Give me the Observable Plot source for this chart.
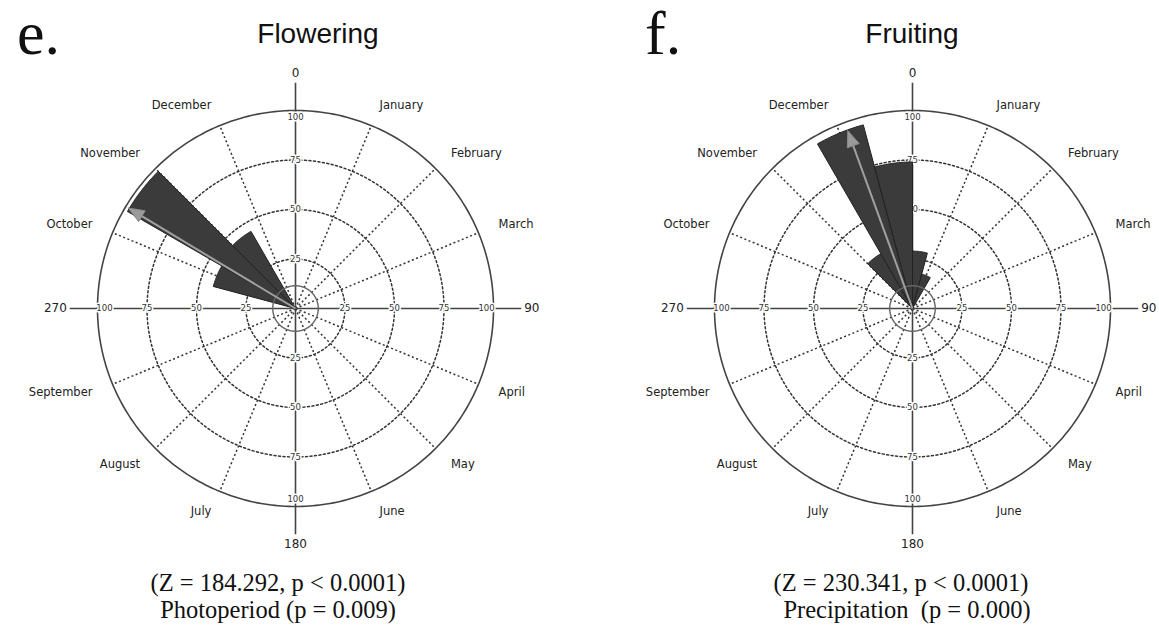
<!DOCTYPE html>
<html><head><meta charset="utf-8">
<script src="https://cdn.jsdelivr.net/npm/d3@7"></script>
<script src="https://cdn.jsdelivr.net/npm/@observablehq/plot@0.6"></script>
<style>
body{margin:0;background:#fff;}
#root{position:relative;width:1159px;height:628px;overflow:hidden;background:#fff;}
.abs{position:absolute;white-space:pre;}
.letter{font-family:"Liberation Serif",serif;font-size:62px;line-height:66px;color:#111;}
.title{font-family:"Liberation Sans",Arial,sans-serif;font-size:28px;line-height:30px;color:#111;text-align:center;width:300px;}
.cap{font-family:"Liberation Serif",serif;font-size:24.5px;line-height:26px;color:#111;text-align:center;width:400px;}
svg{position:absolute;}
</style></head><body><div id="root"></div>
<script>
// ---- data ----
const months = ["January","February","March","April","May","June","July","August","September","October","November","December"];
const axisTickValues = [25, 50, 75, 100];
const axisEndLabels = ["0", "90", "180", "270"];
const binWidth = 15;
const floweringBinStarts = [285, 300, 315];
const floweringValues = [43, 98, 45];
const floweringMeanAngle = 301;
const floweringMeanLength = 98.5;
const fruitingBinStarts = [315, 330, 345, 0, 15];
const fruitingValues = [32, 96, 74, 29, 18];
const fruitingMeanAngle = 340;
const fruitingMeanLength = 95.5;

// ---- helpers ----
const rad = d => d * Math.PI / 180;
const px = (r, a) => r * Math.sin(rad(a));
const py = (r, a) => r * Math.cos(rad(a));

function rose({cx, cy, W, H, binStarts, values, meanAngle, meanLength}) {
  const k = 1.98; // px per unit
  const wedges = [];
  binStarts.forEach((s, i) => {
    const v = values[i];
    wedges.push({id: i, x: 0, y: 0});
    for (let a = s; a <= s + binWidth + 1e-9; a += 0.5) wedges.push({id: i, x: px(v, a), y: py(v, a)});
    wedges.push({id: i, x: 0, y: 0});
  });
  const ring = (r, id) => d3.range(0, 361, 1).map(a => ({id, x: px(r, a), y: py(r, a)}));
  const dashedRings = [25, 50, 75].flatMap(r => ring(r, r));
  const outerRing = ring(100, "o");
  const innerRing = ring(11.5, "i");
  const spokeAngles = d3.range(0, 360, 22.5).filter(a => a % 90 !== 0);
  const spokes = spokeAngles.map(a => ({x2: px(100, a), y2: py(100, a)}));
  const monthPos = spokeAngles.map((a, i) => ({text: months[i], a, x: px(111, a), y: py(111, a)}));
  const tickData = [];
  for (const dir of [0, 90, 180, 270]) for (const v of axisTickValues) {
    const r = v === 100 ? 96.5 : v;
    tickData.push({text: String(v), x: px(r, dir), y: py(r, dir)});
  }
  const ends = axisEndLabels.map((t, i) => ({text: t, a: i * 90}));
  const ext = 114;
  // arrow: shaft + filled head
  const headLen = 8, headHalf = 3.2;
  const baseR = meanLength - headLen;
  const perp = meanAngle + 90;
  const head = [
    {x: px(meanLength, meanAngle), y: py(meanLength, meanAngle)},
    {x: px(baseR, meanAngle) + px(headHalf, perp), y: py(baseR, meanAngle) + py(headHalf, perp)},
    {x: px(baseR, meanAngle) - px(headHalf, perp), y: py(baseR, meanAngle) - py(headHalf, perp)},
    {x: px(meanLength, meanAngle), y: py(meanLength, meanAngle)}
  ];
  return Plot.plot({
    width: W, height: H, margin: 0,
    x: {domain: [-cx / k, (W - cx) / k], axis: null},
    y: {domain: [-(H - cy) / k, cy / k], axis: null},
    style: {fontFamily: "DejaVu Sans", background: "transparent"},
    marks: [
      Plot.line(dashedRings, {x: "x", y: "y", z: "id", stroke: "#333", strokeWidth: 1.5, strokeDasharray: "2,2.5"}),
      Plot.link(spokes, {x1: 0, y1: 0, x2: "x2", y2: "y2", stroke: "#333", strokeWidth: 1.5, strokeDasharray: "2,2.5"}),
      Plot.line(outerRing, {x: "x", y: "y", stroke: "#444", strokeWidth: 1.6}),
      Plot.link([0], {x1: -ext, x2: ext, y1: 0, y2: 0, stroke: "#444", strokeWidth: 1.6}),
      Plot.link([0], {x1: 0, x2: 0, y1: -ext, y2: ext, stroke: "#444", strokeWidth: 1.6}),
      Plot.text(tickData, {x: "x", y: "y", text: "text", fontSize: 8.5, fill: "#333", stroke: "white", strokeWidth: 3, paintOrder: "stroke"}),
      Plot.line(wedges, {x: "x", y: "y", z: "id", fill: "#3b3b3b", stroke: "#222", strokeWidth: 1, curve: "linear"}),
      Plot.line(innerRing, {x: "x", y: "y", stroke: "#666", strokeWidth: 1.4}),
      Plot.link([0], {x1: 0, y1: 0, x2: () => px(baseR + 1, meanAngle), y2: () => py(baseR + 1, meanAngle), stroke: "#a0a0a0", strokeWidth: 2}),
      Plot.line(head, {x: "x", y: "y", fill: "#9a9a9a", stroke: "#8a8a8a", strokeWidth: 1}),
      Plot.text(monthPos.filter(d => d.a < 180), {x: "x", y: "y", text: "text", textAnchor: "start", fontSize: 11.5, fill: "#222"}),
      Plot.text(monthPos.filter(d => d.a > 180), {x: "x", y: "y", text: "text", textAnchor: "end", fontSize: 11.5, fill: "#222"}),
      Plot.text(ends.filter(d => d.a === 0 || d.a === 180), {x: d => px(119, d.a), y: d => py(119, d.a), text: "text", fontSize: 12, fill: "#222"}),
      Plot.text(ends.filter(d => d.a === 90), {x: d => px(115.5, d.a), y: 0, text: "text", textAnchor: "start", fontSize: 12, fill: "#222"}),
      Plot.text(ends.filter(d => d.a === 270), {x: d => px(115.5, d.a), y: 0, text: "text", textAnchor: "end", fontSize: 12, fill: "#222"})
    ]
  });
}

const root = document.getElementById("root");
function add(html, cls, left, top) {
  const d = document.createElement("div");
  d.className = "abs " + cls;
  d.style.left = left + "px"; d.style.top = top + "px";
  d.textContent = html;
  root.appendChild(d);
}

const svgTop = 55, H = 500;
const s1 = rose({cx: 295, cy: 308 - svgTop, W: 580, H, binStarts: floweringBinStarts, values: floweringValues, meanAngle: floweringMeanAngle, meanLength: floweringMeanLength});
s1.style.left = "0px"; s1.style.top = svgTop + "px";
root.appendChild(s1);
const s2 = rose({cx: 912 - 579, cy: 308 - svgTop, W: 580, H, binStarts: fruitingBinStarts, values: fruitingValues, meanAngle: fruitingMeanAngle, meanLength: fruitingMeanLength});
s2.style.left = "579px"; s2.style.top = svgTop + "px";
root.appendChild(s2);

add("e.", "letter", 17, 0);
add("f.", "letter", 645, 0);
add("Flowering", "title", 318 - 150, 19);
add("Fruiting", "title", 912 - 150, 19);
add("(Z = 184.292, p < 0.0001)", "cap", 278 - 200, 570);
add("Photoperiod (p = 0.009)", "cap", 278 - 200, 597);
add("(Z = 230.341, p < 0.0001)", "cap", 901 - 200, 570);
add("Precipitation  (p = 0.000)", "cap", 907 - 200, 597);
</script>
</body></html>
